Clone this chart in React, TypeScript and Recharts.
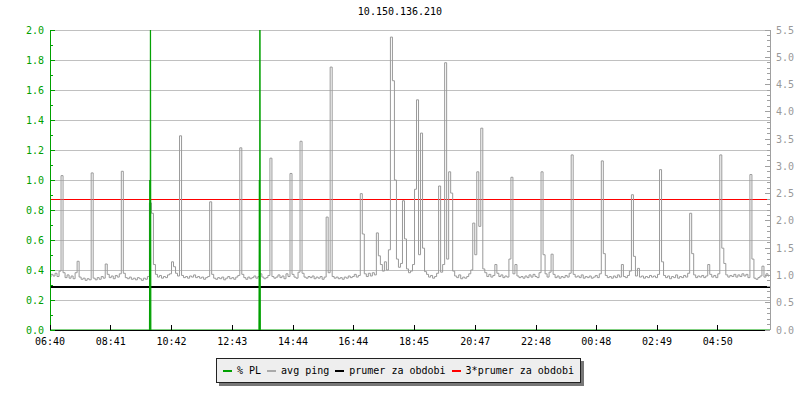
import { CartesianGrid, Line, LineChart, ReferenceLine, XAxis, YAxis } from "recharts";

const TITLE = "10.150.136.210";
const FONT = '"DejaVu Sans Mono", "Liberation Mono", monospace';
const GREEN = "#00a000";
const GRAY = "#999999";
const RED = "#ff0000";

// minutes since 06:40, ping is sampled every 4 minutes
const SAMPLE_MINUTES = 4;
const RANGE_MINUTES = 1434;

const timeTicks = [0, 121, 242, 363, 484, 604, 725, 847, 968, 1088, 1209, 1330];
const timeLabels = [
  "06:40", "08:41", "10:42", "12:43", "14:44", "16:44",
  "18:45", "20:47", "22:48", "00:48", "02:49", "04:50",
];

const plTicks = [
  0, 0.1, 0.2, 0.3, 0.4, 0.5, 0.6, 0.7, 0.8, 0.9, 1.0,
  1.1, 1.2, 1.3, 1.4, 1.5, 1.6, 1.7, 1.8, 1.9, 2.0,
];
const gridValues = [0.2, 0.4, 0.6, 0.8, 1.0, 1.2, 1.4, 1.6, 1.8, 2.0];
const pingTicks = Array.from({ length: 56 }, (_, i) => i / 10);

// avg ping (right axis)
const avgPing = [
  0.97, 1.02, 0.99, 1.04, 0.98, 1.08, 2.83, 1.05, 0.96, 1.01, 0.95, 0.99, 0.94, 1.05, 1.26, 0.97, 0.93, 0.95, 0.91, 0.94,
  0.92, 2.88, 0.95, 0.92, 0.96, 0.93, 0.98, 0.95, 1.21, 1.02, 0.96, 0.99, 0.94, 1.0, 0.97, 1.03, 2.91, 1.04, 0.96, 0.94,
  0.97, 0.93, 0.95, 0.92, 0.96, 0.94, 0.91, 0.95, 0.93, 0.98, 2.33, 2.14, 1.2, 1.02, 0.97, 1.0, 0.95, 0.98, 0.96, 1.01,
  1.03, 1.25, 1.16, 1.04, 0.99, 3.56, 1.0, 0.96, 0.98, 0.95, 0.99, 0.97, 1.01, 0.96, 0.98, 0.95, 0.97, 0.93, 0.96, 0.98,
  2.35, 1.02, 0.95, 0.93, 0.96, 0.94, 0.97, 0.92, 0.95, 0.98, 0.94, 0.96, 0.93, 0.97, 1.0, 3.34, 1.02, 0.96, 0.93, 0.97,
  0.94, 0.96, 0.99, 0.95, 0.98, 1.03, 0.97, 0.94, 0.96, 1.0, 3.15, 0.98, 0.95, 0.97, 1.01, 0.96, 0.99, 0.94, 1.03, 0.98,
  2.87, 1.02, 0.97, 0.95, 1.06, 3.46, 1.04, 0.97, 0.95, 0.98, 0.96, 0.99, 0.94, 0.97, 0.95, 0.98, 0.93, 0.97, 2.07, 1.05,
  4.82, 0.98, 0.95, 0.97, 0.94, 0.96, 0.93, 0.97, 0.95, 0.99, 0.96, 0.98, 1.02, 0.97, 1.0, 2.5, 1.76, 1.03, 0.98, 1.04,
  0.99, 1.05, 1.01, 1.78, 1.36, 1.2, 1.08, 1.25, 1.1, 1.47, 5.37, 4.57, 2.75, 1.3, 1.15, 1.22, 2.37, 1.67, 1.12, 1.05,
  1.08, 1.2, 2.58, 4.22, 1.38, 3.61, 1.5, 1.07, 1.02, 0.97, 1.0, 0.95, 0.98, 1.04, 2.64, 1.06, 1.2, 4.9, 1.3, 2.9,
  2.51, 1.08, 0.99, 0.96, 1.01, 0.94, 0.97, 0.95, 0.98, 1.03, 1.1, 1.96, 1.38, 2.9, 1.9, 3.7, 1.12, 1.05, 0.98, 1.02,
  0.97, 1.0, 1.2, 1.04, 0.98, 1.01, 0.96, 0.99, 0.97, 1.3, 2.8, 1.03, 1.2, 0.99, 0.96, 0.98, 0.95, 0.99, 0.96, 1.01,
  0.97, 1.02, 0.98, 0.96, 1.05, 2.9, 1.38, 1.03, 0.97, 1.06, 1.39, 1.02, 0.96, 0.99, 0.95, 0.98, 0.96, 1.0, 0.97, 1.04,
  3.21, 1.02, 0.97, 0.99, 0.96, 1.01, 0.95, 0.98, 0.96, 0.99, 0.95, 0.97, 1.0, 0.96, 1.03, 3.1, 1.4, 1.0, 0.96, 0.98,
  0.95, 0.99, 0.96, 1.01, 0.97, 1.2, 0.98, 0.96, 1.0, 1.08, 2.48, 1.35, 0.99, 1.13, 0.97, 0.99, 0.95, 0.98, 0.96, 1.0,
  0.97, 0.99, 0.96, 1.02, 2.94, 1.25, 1.0, 0.96, 0.99, 0.94, 0.98, 0.96, 1.01, 0.95, 0.98, 0.96, 1.0, 0.97, 1.04, 2.14,
  1.4, 1.01, 0.96, 0.99, 0.97, 1.0, 0.96, 0.99, 1.2, 1.02, 0.97, 1.0, 0.96, 1.03, 3.21, 1.5, 1.22, 1.01, 0.97, 1.0,
  0.98, 1.02, 0.97, 1.01, 0.98, 1.03, 0.99, 1.02, 0.96, 2.85, 1.3, 0.95, 0.93, 0.96, 0.99, 1.17, 0.97, 1.03, 0.99,
];

// % packet loss (left axis), only two loss events
const plMinutes = [0, 198, 199, 199.5, 200, 201, 416, 417, 417.5, 418, 419, 1434];
const plValues = [0, 0, 1, 0, 3, 0, 0, 1, 0, 3, 0, 0];

const PRUMER = 0.79;
const PRUMER_3X = 2.4;

const legendItems = [
  { label: "% PL", color: GREEN },
  { label: "avg ping", color: "#aaaaaa" },
  { label: "prumer za obdobi", color: "#000000" },
  { label: "3*prumer za obdobi", color: RED },
];

const pingData = avgPing.map((v, i) => ({ t: i * SAMPLE_MINUTES, ping: v }));
const plData = plMinutes.map((t, i) => ({ t, pl: plValues[i] }));

function LeftTick({ x, y, payload }: any) {
  const v = payload.value as number;
  const major = Math.round(v * 10) % 2 === 0;
  return (
    <g>
      <line x1={x} x2={x + (major ? 5 : 3)} y1={y} y2={y} stroke={GREEN} shapeRendering="crispEdges" />
      {major && (
        <text x={x - 6} y={y} dy={3.5} textAnchor="end" fill={GREEN} fontSize={10} fontFamily={FONT}>
          {v.toFixed(1)}
        </text>
      )}
    </g>
  );
}

function RightTick({ x, y, payload }: any) {
  const v = payload.value as number;
  const major = Math.round(v * 10) % 5 === 0;
  return (
    <g>
      <line x1={x - (major ? 5 : 3)} x2={x} y1={y} y2={y} stroke="#a0a0a0" shapeRendering="crispEdges" />
      {major && (
        <text x={x + 6} y={y} dy={3.5} textAnchor="start" fill="#999999" fontSize={10} fontFamily={FONT}>
          {v.toFixed(1)}
        </text>
      )}
    </g>
  );
}

function TimeTick({ x, y, payload }: any) {
  const idx = timeTicks.indexOf(payload.value);
  return (
    <g>
      <line x1={x} x2={x} y1={y} y2={y - 5} stroke="#000" shapeRendering="crispEdges" />
      <text x={x} y={y + 15} textAnchor="middle" fill="#000" fontSize={10} fontFamily={FONT}>
        {timeLabels[idx]}
      </text>
    </g>
  );
}

export default function App() {
  return (
    <div style={{ position: "absolute", left: 0, top: 0, width: 800, height: 400, background: "#fff" }}>
      <div
        style={{
          position: "absolute",
          left: 0,
          top: 6,
          width: 800,
          textAlign: "center",
          fontFamily: FONT,
          fontSize: 10,
          color: "#000",
        }}
      >
        {TITLE}
      </div>
      <div style={{ position: "absolute", left: 0, top: 0 }}>
        <LineChart width={800} height={400} data={pingData} margin={{ top: 30, right: 0, bottom: 40, left: 0 }}>
          <CartesianGrid
            yAxisId="left"
            vertical={false}
            horizontalValues={gridValues}
            stroke="#c0c0c0"
            shapeRendering="crispEdges"
          />
          <XAxis
            dataKey="t"
            type="number"
            domain={[0, RANGE_MINUTES]}
            ticks={timeTicks}
            interval={0}
            height={30}
            tickSize={0}
            tickMargin={0}
            tickLine={false}
            axisLine={{ stroke: "#000", shapeRendering: "crispEdges" }}
            tick={TimeTick}
          />
          <YAxis
            yAxisId="left"
            domain={[0, 2]}
            ticks={plTicks}
            interval={0}
            allowDataOverflow
            width={50}
            tickSize={0}
            tickMargin={0}
            tickLine={false}
            axisLine={{ stroke: GREEN, shapeRendering: "crispEdges" }}
            tick={LeftTick}
          />
          <YAxis
            yAxisId="right"
            orientation="right"
            domain={[0, 5.5]}
            ticks={pingTicks}
            interval={0}
            allowDataOverflow
            width={30}
            tickSize={0}
            tickMargin={0}
            tickLine={false}
            axisLine={{ stroke: "#a0a0a0", shapeRendering: "crispEdges" }}
            tick={RightTick}
          />
          <ReferenceLine yAxisId="right" y={PRUMER_3X} stroke={RED} strokeWidth={1} shapeRendering="crispEdges" />
          <ReferenceLine yAxisId="right" y={PRUMER} stroke="#000" strokeWidth={2} shapeRendering="crispEdges" />
          <Line
            yAxisId="right"
            dataKey="ping"
            type="step"
            stroke={GRAY}
            strokeWidth={1}
            dot={false}
            isAnimationActive={false}
          />
          <Line
            yAxisId="left"
            data={plData}
            dataKey="pl"
            type="linear"
            stroke={GREEN}
            strokeWidth={1}
            dot={false}
            isAnimationActive={false}
          />
        </LineChart>
      </div>
      <div
        style={{
          position: "absolute",
          left: 216,
          top: 358,
          width: 365,
          height: 25,
          boxSizing: "border-box",
          border: "1px solid #222",
          background: "#eeeeee",
          boxShadow: "3px 3px 0 #777",
          display: "flex",
          alignItems: "center",
          paddingLeft: 6,
          fontFamily: FONT,
          fontSize: 10,
          whiteSpace: "nowrap",
        }}
      >
        {legendItems.map((item) => (
          <span key={item.label} style={{ display: "flex", alignItems: "center", marginRight: 6 }}>
            <span style={{ width: 9, height: 2, background: item.color, marginRight: 5 }} />
            <span>{item.label}</span>
          </span>
        ))}
      </div>
    </div>
  );
}
